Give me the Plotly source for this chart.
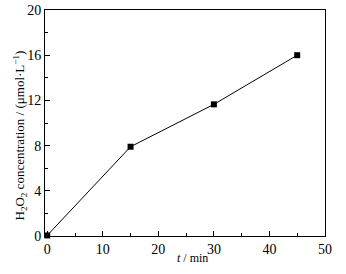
import plotly.graph_objects as go

time_min = [0, 15, 30, 45]
h2o2_conc = [0.05, 7.9, 11.65, 16.0]
x_ticks = [0, 10, 20, 30, 40, 50]
y_ticks = [0, 4, 8, 12, 16, 20]
x_title = "<i>t</i> / min"
y_title = "H<sub>2</sub>O<sub>2</sub> concentration / (μmol·L<sup>−1</sup>)"

serif = "Liberation Serif, Times New Roman, serif"

fig = go.Figure()
fig.add_trace(go.Scatter(
    x=time_min, y=h2o2_conc, mode="lines+markers",
    line=dict(color="black", width=1),
    marker=dict(symbol="square", size=6, color="black"),
    showlegend=False, cliponaxis=False,
))

font = dict(family=serif, size=14, color="black")
axis_common = dict(
    showline=True, linecolor="black", linewidth=1, mirror=True,
    ticks="inside", ticklen=5, tickwidth=1, tickcolor="black",
    showgrid=False, zeroline=False, tickfont=font, automargin=False,
)
fig.update_xaxes(
    range=[-0.4, 50], tickvals=x_ticks,
    minor=dict(ticks="inside", ticklen=3, dtick=5, tick0=0, tickcolor="black"),
    **axis_common,
)
fig.update_yaxes(
    range=[0, 20], tickvals=y_ticks,
    minor=dict(ticks="inside", ticklen=3, dtick=2, tick0=0, tickcolor="black"),
    **axis_common,
)
fig.add_annotation(
    text=x_title, xref="paper", yref="paper", x=0.528, y=-0.097,
    xanchor="center", yanchor="middle", showarrow=False,
    font=dict(family=serif, size=12, color="black"),
)
fig.add_annotation(
    text=y_title, xref="paper", yref="paper", x=-0.089, y=0.445,
    xanchor="center", yanchor="middle", showarrow=False, textangle=-90,
    font=dict(family=serif, size=13, color="black"),
)
fig.update_layout(
    width=346, height=274,
    margin=dict(l=45, r=21, t=10, b=38),
    paper_bgcolor="white", plot_bgcolor="white",
)
fig.write_html("out.html", config={"displayModeBar": False},
               post_script="document.body.style.margin='0';")
